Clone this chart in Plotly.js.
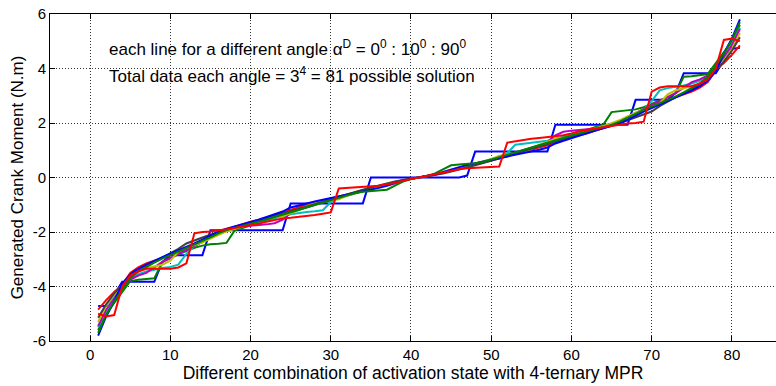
<!DOCTYPE html>
<html>
<head>
<meta charset="utf-8">
<script src="https://cdn.plot.ly/plotly-3.0.1.min.js"></script>
<style>html,body{margin:0;padding:0;background:#fff;}#chart{width:776px;height:386px;}</style>
</head>
<body>
<div id="chart"></div>
<script>
// x: combination index 1..81
const combos = Array.from({length: 81}, (_, i) => i + 1);

const xTicks = [0, 10, 20, 30, 40, 50, 60, 70, 80];
const yTicks = [-6, -4, -2, 0, 2, 4, 6];

const angles = ['0°','10°','20°','30°','40°','50°','60°','70°','80°','90°'];
const colors = ['#0000ff','#008000','#ff0000','#00bfbf','#bf00bf','#bfbf00','#404040','#0000ff','#008000','#ff0000'];

const s1 = [-4.72,-4.72,-4.30,-3.83,-3.83,-3.83,-3.83,-3.83,-3.10,-2.85,-2.85,-2.85,-2.85,-2.85,-1.94,-1.94,-1.94,-1.94,-1.94,-1.94,-1.94,-1.94,-1.94,-1.94,-0.95,-0.95,-0.95,-0.95,-0.95,-0.95,-0.95,-0.95,-0.95,-0.95,0,0,0,0,0,0,0,
  0,0,0,0,0,0.07,0.95,0.95,0.95,0.95,0.95,0.95,0.95,0.95,0.95,0.95,1.94,1.94,1.94,1.94,1.94,1.94,1.94,1.94,1.94,1.94,2.85,2.85,2.85,2.85,2.85,3.10,3.83,3.83,3.83,3.83,3.83,4.30,4.72,4.76];
const s2 = [-5.60,-5.00,-4.60,-4.20,-3.80,-3.75,-3.72,-3.70,-3.10,-2.95,-2.82,-2.70,-2.58,-2.50,-2.45,-2.43,-2.40,-1.95,-1.85,-1.75,-1.65,-1.56,-1.47,-1.38,-1.28,-1.18,-1.09,-1.00,-0.92,-0.84,-0.76,-0.68,-0.60,-0.50,-0.42,-0.33,-0.25,-0.18,-0.11,-0.05,0,
  0.05,0.11,0.18,0.25,0.33,0.42,0.50,0.60,0.68,0.76,0.84,0.92,1.00,1.09,1.18,1.28,1.38,1.47,1.56,1.65,1.75,1.85,1.95,2.40,2.43,2.45,2.50,2.58,2.70,2.82,2.95,3.10,3.70,3.72,3.75,3.80,4.20,4.60,5.00,5.60];
const s3 = [-4.85,-4.50,-4.20,-3.95,-3.50,-3.30,-3.15,-3.05,-2.95,-2.85,-2.75,-2.62,-2.50,-2.35,-2.20,-2.00,-1.90,-1.82,-1.72,-1.62,-1.55,-1.47,-1.38,-1.28,-1.18,-1.08,-1.00,-0.92,-0.85,-0.78,-0.70,-0.62,-0.55,-0.47,-0.40,-0.32,-0.25,-0.18,-0.10,-0.04,0,
  0.04,0.10,0.18,0.25,0.32,0.40,0.47,0.55,0.62,0.70,0.78,0.85,0.92,1.00,1.08,1.18,1.28,1.38,1.47,1.55,1.62,1.72,1.82,1.90,2.00,2.20,2.35,2.50,2.62,2.75,2.85,2.95,3.05,3.15,3.30,3.50,3.95,4.20,4.50,4.85];
const s4 = [-5.50,-4.90,-4.40,-4.00,-3.70,-3.55,-3.45,-3.38,-3.32,-3.28,-3.20,-2.80,-2.50,-2.35,-2.20,-2.08,-1.96,-1.88,-1.80,-1.72,-1.65,-1.58,-1.50,-1.42,-1.35,-1.30,-1.27,-1.24,-1.20,-0.90,-0.75,-0.66,-0.57,-0.49,-0.41,-0.33,-0.25,-0.17,-0.10,-0.05,0,
  0.05,0.10,0.17,0.25,0.33,0.41,0.49,0.57,0.66,0.75,0.90,1.20,1.24,1.27,1.30,1.35,1.42,1.50,1.58,1.65,1.72,1.80,1.88,1.96,2.08,2.20,2.35,2.50,2.80,3.20,3.28,3.32,3.38,3.45,3.55,3.70,4.00,4.40,4.90,5.50];
const s5 = [-5.45,-4.85,-4.45,-4.00,-3.75,-3.60,-3.50,-3.30,-3.10,-2.95,-2.80,-2.65,-2.50,-2.36,-2.22,-2.08,-1.96,-1.86,-1.80,-1.78,-1.75,-1.72,-1.68,-1.55,-1.30,-1.17,-1.08,-0.99,-0.90,-0.82,-0.73,-0.64,-0.55,-0.47,-0.39,-0.31,-0.24,-0.16,-0.10,-0.04,0,
  0.04,0.10,0.16,0.24,0.31,0.39,0.47,0.55,0.64,0.73,0.82,0.90,0.99,1.08,1.17,1.30,1.55,1.68,1.72,1.75,1.78,1.80,1.86,1.96,2.08,2.22,2.36,2.50,2.65,2.80,2.95,3.10,3.30,3.50,3.60,3.75,4.00,4.45,4.85,5.45];
const s6 = [-5.30,-4.70,-4.30,-3.95,-3.55,-3.42,-3.33,-3.27,-3.20,-3.05,-2.72,-2.58,-2.48,-2.38,-2.24,-2.10,-1.98,-1.88,-1.80,-1.66,-1.56,-1.50,-1.46,-1.42,-1.31,-1.20,-1.05,-0.93,-0.88,-0.85,-0.80,-0.67,-0.57,-0.50,-0.42,-0.33,-0.26,-0.18,-0.11,-0.05,0,
  0.05,0.11,0.18,0.26,0.33,0.42,0.50,0.57,0.67,0.80,0.85,0.88,0.93,1.05,1.20,1.31,1.42,1.46,1.50,1.56,1.66,1.80,1.88,1.98,2.10,2.24,2.38,2.48,2.58,2.72,3.05,3.20,3.27,3.33,3.42,3.55,3.95,4.30,4.70,5.30];
const s7 = [-5.15,-4.65,-4.25,-3.92,-3.62,-3.42,-3.26,-3.10,-2.95,-2.80,-2.62,-2.42,-2.30,-2.20,-2.10,-2.00,-1.90,-1.82,-1.74,-1.66,-1.58,-1.50,-1.42,-1.33,-1.24,-1.15,-1.06,-0.97,-0.88,-0.79,-0.70,-0.61,-0.53,-0.45,-0.37,-0.29,-0.22,-0.15,-0.09,-0.04,0,
  0.04,0.09,0.15,0.22,0.29,0.37,0.45,0.53,0.61,0.70,0.79,0.88,0.97,1.06,1.15,1.24,1.33,1.42,1.50,1.58,1.66,1.74,1.82,1.90,2.00,2.10,2.20,2.30,2.42,2.62,2.80,2.95,3.10,3.26,3.42,3.62,3.92,4.25,4.65,5.15];
const s8 = [-5.80,-5.10,-4.55,-3.90,-3.55,-3.35,-3.20,-3.05,-2.92,-2.80,-2.68,-2.55,-2.42,-2.28,-2.12,-1.98,-1.88,-1.80,-1.72,-1.63,-1.55,-1.45,-1.35,-1.25,-1.10,-1.02,-0.95,-0.88,-0.82,-0.76,-0.70,-0.64,-0.58,-0.52,-0.46,-0.38,-0.30,-0.20,-0.12,-0.05,0,
  0.05,0.12,0.20,0.30,0.38,0.46,0.52,0.58,0.64,0.70,0.76,0.82,0.88,0.95,1.02,1.10,1.25,1.35,1.45,1.55,1.63,1.72,1.80,1.88,1.98,2.12,2.28,2.42,2.55,2.68,2.80,2.92,3.05,3.20,3.35,3.55,3.90,4.55,5.10,5.80];
const s9 = [-5.70,-5.05,-4.55,-4.10,-3.70,-3.45,-3.28,-3.12,-2.98,-2.85,-2.72,-2.60,-2.48,-2.35,-2.20,-2.05,-1.93,-1.85,-1.78,-1.70,-1.62,-1.54,-1.45,-1.36,-1.27,-1.18,-1.09,-1.00,-0.92,-0.84,-0.75,-0.66,-0.57,-0.52,-0.50,-0.48,-0.45,-0.30,-0.15,-0.06,0,
  0.06,0.15,0.30,0.45,0.48,0.50,0.52,0.57,0.66,0.75,0.84,0.92,1.00,1.09,1.18,1.27,1.36,1.45,1.54,1.62,1.70,1.78,1.85,1.93,2.05,2.20,2.35,2.48,2.60,2.72,2.85,2.98,3.12,3.28,3.45,3.70,4.10,4.55,5.05,5.70];
const s10 = [-5.00,-5.10,-5.05,-4.00,-3.60,-3.45,-3.35,-3.35,-3.35,-3.35,-3.30,-3.15,-2.05,-2.00,-1.98,-1.95,-1.90,-1.85,-1.80,-1.75,-1.70,-1.62,-1.55,-1.50,-1.48,-1.45,-1.42,-1.38,-1.33,-1.28,-0.40,-0.38,-0.37,-0.36,-0.34,-0.30,-0.25,-0.20,-0.12,-0.06,0,
  0.06,0.12,0.20,0.25,0.30,0.34,0.36,0.37,0.38,0.40,1.28,1.33,1.38,1.42,1.45,1.48,1.50,1.55,1.62,1.70,1.75,1.80,1.85,1.90,1.95,1.98,2.00,2.05,3.15,3.30,3.35,3.35,3.35,3.35,3.45,3.60,4.00,5.05,5.10,5.00];

const series = [s1, s2, s3, s4, s5, s6, s7, s8, s9, s10];

const traces = series.map((ys, i) => ({
  x: combos,
  y: ys,
  type: 'scatter',
  mode: 'lines',
  name: angles[i],
  line: {color: colors[i], width: 2},
  showlegend: false
}));

const font = {family: '"Liberation Sans", Arial, Helvetica, sans-serif', color: '#000'};

const layout = {
  width: 776,
  height: 386,
  margin: {l: 50, r: 0, t: 14, b: 45},
  paper_bgcolor: '#fff',
  plot_bgcolor: '#fff',
  font: Object.assign({size: 15}, font),
  xaxis: {
    range: [-5, 85.5],
    tickvals: xTicks,
    ticktext: xTicks.map(String),
    ticks: 'inside',
    ticklen: 5,
    tickcolor: '#000',
    showline: true,
    linecolor: '#000',
    linewidth: 1,
    mirror: 'ticks',
    showgrid: true,
    gridcolor: '#333',
    griddash: '1px,2px',
    gridwidth: 1,
    zeroline: false,
    tickfont: Object.assign({size: 15}, font),
    title: {text: 'Different combination of activation state with 4-ternary MPR', font: Object.assign({size: 17.5}, font), standoff: 2}
  },
  yaxis: {
    range: [-6, 6],
    tickvals: yTicks,
    ticktext: yTicks.map(String),
    ticks: 'inside',
    ticklen: 5,
    tickcolor: '#000',
    showline: true,
    linecolor: '#000',
    linewidth: 1,
    showgrid: true,
    gridcolor: '#333',
    griddash: '1px,2px',
    gridwidth: 1,
    zeroline: false,
    tickfont: Object.assign({size: 15}, font),
    title: {text: 'Generated Crank Moment (N.m)', font: Object.assign({size: 17}, font), standoff: 4}
  },
  annotations: [
    {xref: 'x', yref: 'y', x: 2.1, y: 4.75, xanchor: 'left', yanchor: 'middle', showarrow: false,
     text: 'each line for a different angle α<sup>D</sup> = 0<sup>0</sup> : 10<sup>0</sup> : 90<sup>0</sup>',
     font: Object.assign({size: 17}, font)},
    {xref: 'x', yref: 'y', x: 2.1, y: 3.75, xanchor: 'left', yanchor: 'middle', showarrow: false,
     text: 'Total data each angle = 3<sup>4</sup> = 81 possible solution',
     font: Object.assign({size: 17}, font)}
  ]
};

Plotly.newPlot('chart', traces, layout, {displayModeBar: false, staticPlot: true});
</script>
</body>
</html>
